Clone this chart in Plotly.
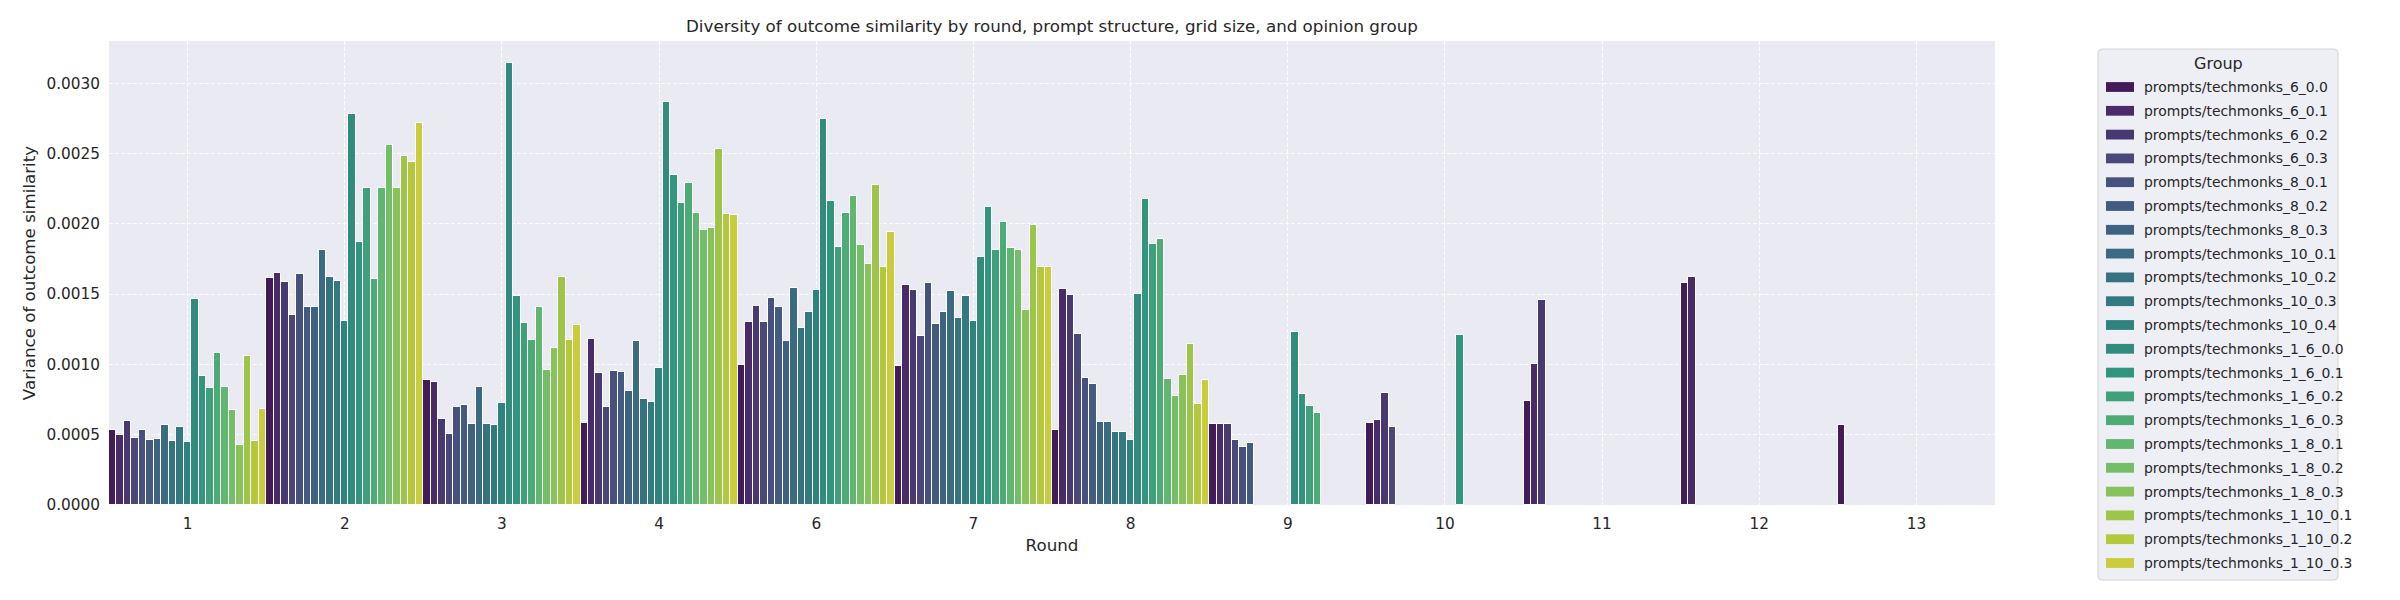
import colorsys
import plotly.graph_objects as go

# ---------------- data ----------------
rounds = ["1", "2", "3", "4", "6", "7", "8", "9", "10", "11", "12", "13"]

groups = [
    "prompts/techmonks_6_0.0", "prompts/techmonks_6_0.1", "prompts/techmonks_6_0.2",
    "prompts/techmonks_6_0.3", "prompts/techmonks_8_0.1", "prompts/techmonks_8_0.2",
    "prompts/techmonks_8_0.3", "prompts/techmonks_10_0.1", "prompts/techmonks_10_0.2",
    "prompts/techmonks_10_0.3", "prompts/techmonks_10_0.4", "prompts/techmonks_1_6_0.0",
    "prompts/techmonks_1_6_0.1", "prompts/techmonks_1_6_0.2", "prompts/techmonks_1_6_0.3",
    "prompts/techmonks_1_8_0.1", "prompts/techmonks_1_8_0.2", "prompts/techmonks_1_8_0.3",
    "prompts/techmonks_1_10_0.1", "prompts/techmonks_1_10_0.2", "prompts/techmonks_1_10_0.3",
]

N = None
v_6_00 = [0.000532, 0.001615, 0.000888, 0.000582, 0.000995, 0.000988, 0.000532, 0.000575, 0.000586, 0.000738, 0.001581, 0.000569]
v_6_01 = [0.000496, 0.001651, 0.000874, 0.001180, 0.001302, 0.001565, 0.001537, 0.000575, 0.000607, 0.001002, 0.001620, N]
v_6_02 = [0.000596, 0.001587, 0.000610, 0.000938, 0.001416, 0.001530, 0.001494, 0.000575, 0.000795, 0.001460, N, N]
v_6_03 = [0.000475, 0.001351, 0.000504, 0.000696, 0.001302, 0.001202, 0.001216, 0.000461, 0.000552, N, N, N]
v_8_01 = [0.000532, 0.001644, 0.000696, 0.000952, 0.001473, 0.001579, 0.000903, 0.000411, N, N, N, N]
v_8_02 = [0.000461, 0.001408, 0.000710, 0.000945, 0.001408, 0.001287, 0.000860, 0.000439, N, N, N, N]
v_8_03 = [0.000468, 0.001408, 0.000575, 0.000810, 0.001166, 0.001373, 0.000589, N, N, N, N, N]
v_10_01 = [0.000568, 0.001815, 0.000838, 0.001166, 0.001544, 0.001522, 0.000589, N, N, N, N, N]
v_10_02 = [0.000454, 0.001622, 0.000575, 0.000753, 0.001259, 0.001330, 0.000518, N, N, N, N, N]
v_10_03 = [0.000553, 0.001594, 0.000568, 0.000732, 0.001373, 0.001487, 0.000518, N, N, N, N, N]
v_10_04 = [0.000447, 0.001309, 0.000724, 0.000974, 0.001530, 0.001309, 0.000461, N, N, N, N, N]
v_1_6_00 = [0.001465, 0.002784, 0.003145, 0.002869, 0.002748, 0.001765, 0.001501, 0.001230, N, N, N, N]
v_1_6_01 = [0.000917, 0.001872, 0.001484, 0.002349, 0.002164, 0.002121, 0.002178, 0.000789, 0.001210, N, N, N]
v_1_6_02 = [0.000831, 0.002256, 0.001294, 0.002149, 0.001836, 0.001815, 0.001857, 0.000703, N, N, N, N]
v_1_6_03 = [0.001081, 0.001608, 0.001173, 0.002292, 0.002078, 0.002014, 0.001893, 0.000653, N, N, N, N]
v_1_8_01 = [0.000838, 0.002256, 0.001408, 0.002078, 0.002199, 0.001829, 0.000895, N, N, N, N, N]
v_1_8_02 = [0.000675, 0.002558, 0.000962, 0.001957, 0.001850, 0.001815, 0.000774, N, N, N, N, N]
v_1_8_03 = [0.000425, 0.002256, 0.001116, 0.001971, 0.001715, 0.001387, 0.000924, N, N, N, N, N]
v_1_10_01 = [0.001059, 0.002484, 0.001622, 0.002534, 0.002278, 0.001993, 0.001145, N, N, N, N, N]
v_1_10_02 = [0.000454, 0.002437, 0.001173, 0.002071, 0.001693, 0.001693, 0.000717, N, N, N, N, N]
v_1_10_03 = [0.000682, 0.002715, 0.001280, 0.002064, 0.001943, 0.001693, 0.000888, N, N, N, N, N]

series = [v_6_00, v_6_01, v_6_02, v_6_03, v_8_01, v_8_02, v_8_03,
          v_10_01, v_10_02, v_10_03, v_10_04,
          v_1_6_00, v_1_6_01, v_1_6_02, v_1_6_03,
          v_1_8_01, v_1_8_02, v_1_8_03,
          v_1_10_01, v_1_10_02, v_1_10_03]

# ---------------- colours (viridis, desaturated like seaborn) ----------------
VIRIDIS = ["#440154", "#482475", "#414487", "#355f8d", "#2a788e", "#21918c",
           "#22a884", "#44bf70", "#7ad151", "#bddf26", "#fde725"]


def hex2rgb(h):
    h = h.lstrip("#")
    return [int(h[i:i + 2], 16) / 255.0 for i in (0, 2, 4)]


def viridis(t):
    pos = t * 10
    i = min(int(pos), 9)
    f = pos - i
    a, b = hex2rgb(VIRIDIS[i]), hex2rgb(VIRIDIS[i + 1])
    return [a[k] + (b[k] - a[k]) * f for k in range(3)]


def desat(rgb, p=0.75):
    h, l, s = colorsys.rgb_to_hls(*rgb)
    r, g, b = colorsys.hls_to_rgb(h, l, s * p)
    return "rgb(%d,%d,%d)" % (round(r * 255), round(g * 255), round(b * 255))


n = len(groups)
colors = [desat(viridis((i + 1) / (n + 1))) for i in range(n)]

# ---------------- figure ----------------
FONT = "DejaVu Sans"
TXT = "#262626"
W, H = 2400, 600
ML, MR, MT, MB = 109, 405, 41, 95
PW, PH = W - ML - MR, H - MT - MB


def px(x):  # pixel -> paper x
    return (x - ML) / PW


def py(y):  # pixel (from top) -> paper y
    return (H - MB - y) / PH


fig = go.Figure()
for name, vals, col in zip(groups, series, colors):
    fig.add_trace(go.Bar(
        x=rounds, y=vals, name=name,
        marker=dict(color=col, line=dict(color="white", width=1)),
        showlegend=False,
    ))

# ---------------- legend (drawn as shapes + text, matplotlib-like) ----------------
LX0, LX1, LY0, LY1 = 2098, 2338, 49, 580
R = 4
rx, ry = R / PW, R / PH
x0, x1, y0, y1 = px(LX0), px(LX1), py(LY1), py(LY0)
path = (f"M {x0 + rx},{y0} L {x1 - rx},{y0} Q {x1},{y0} {x1},{y0 + ry} "
        f"L {x1},{y1 - ry} Q {x1},{y1} {x1 - rx},{y1} L {x0 + rx},{y1} "
        f"Q {x0},{y1} {x0},{y1 - ry} L {x0},{y0 + ry} Q {x0},{y0} {x0 + rx},{y0} Z")
fig.add_shape(type="path", path=path, xref="paper", yref="paper",
              fillcolor="#EEEEF5", line=dict(color="#D4D4D4", width=1), layer="above")

fig.add_annotation(text="Group", x=px((LX0 + LX1) / 2), y=py(63), xref="paper", yref="paper",
                   xanchor="center", yanchor="middle", showarrow=False,
                   font=dict(family=FONT, size=16, color=TXT))

ENTRY0, STEP = 87, 23.8
for i, (name, col) in enumerate(zip(groups, colors)):
    cy = ENTRY0 + i * STEP
    fig.add_shape(type="rect", xref="paper", yref="paper",
                  x0=px(LX0 + 8), x1=px(LX0 + 36), y0=py(cy + 4.9), y1=py(cy - 4.9),
                  fillcolor=col, line=dict(width=0), layer="above")
    fig.add_annotation(text=name, x=px(LX0 + 44), y=py(cy), xref="paper", yref="paper",
                       xanchor="left", yanchor="middle", showarrow=False,
                       font=dict(family=FONT, size=13.9, color=TXT))

fig.update_layout(
    width=W, height=H,
    barmode="group", bargap=0, bargroupgap=0,
    paper_bgcolor="white", plot_bgcolor="#EAEAF2",
    margin=dict(l=ML, r=MR, t=MT, b=MB),
    font=dict(family=FONT, color=TXT, size=15),
    title=dict(
        text="Diversity of outcome similarity by round, prompt structure, grid size, and opinion group",
        x=0.4383, xanchor="center", y=1 - 26 / 600, yanchor="middle", yref="container",
        font=dict(family=FONT, size=16.7, color=TXT),
    ),
    showlegend=False,
)

grid_col = "rgba(255,255,255,0.85)"
fig.update_xaxes(
    type="category", categoryorder="array", categoryarray=rounds,
    showgrid=True, gridcolor=grid_col, griddash="4px,2px", gridwidth=1,
    showline=False, zeroline=False, ticks="",
    tickfont=dict(family=FONT, size=15.3, color=TXT),
    ticklabelstandoff=8,
    title=dict(text="Round", font=dict(family=FONT, size=16.7, color=TXT), standoff=7),
)
fig.update_yaxes(
    range=[0, 0.0033], dtick=0.0005, tick0=0, tickformat=".4f",
    showgrid=True, gridcolor=grid_col, griddash="4px,2px", gridwidth=1,
    showline=False, zeroline=False, ticks="",
    tickfont=dict(family=FONT, size=15.3, color=TXT),
    ticklabelstandoff=8,
    title=dict(text="Variance of outcome similarity", font=dict(family=FONT, size=16.7, color=TXT), standoff=6),
)

fig.write_html(
    "out.html",
    config={"displayModeBar": False},
    post_script="document.body.style.margin='0';document.body.style.overflow='hidden';",
)
